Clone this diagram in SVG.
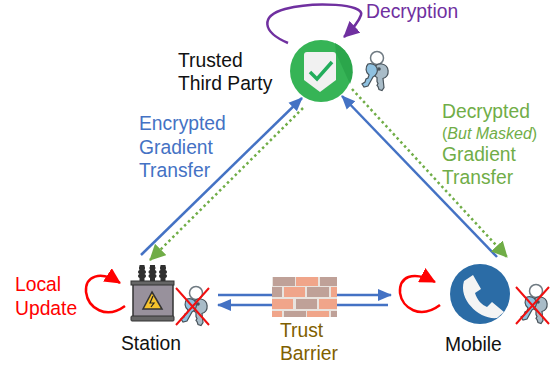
<svg xmlns="http://www.w3.org/2000/svg" width="557" height="365" viewBox="0 0 557 365">
<style>
text{font-family:"Liberation Sans",Arial,sans-serif;font-size:19.3px}
.b{fill:#4472c4}.g{fill:#70ad47}.k{fill:#111}.r{fill:#f00}
.bl{stroke:#4472c4;stroke-width:2.5;fill:none}
.gl{stroke:#70ad47;stroke-width:2.5;fill:none;stroke-dasharray:2.5 3}
.x{stroke:#f01010;stroke-width:2;fill:none}
.rl{stroke:#f00;stroke-width:2.5;fill:none}
.ins{fill:#2f2f2f}
</style>
<defs>
<marker id="ab" markerUnits="userSpaceOnUse" markerWidth="15" markerHeight="14" refX="13" refY="7" orient="auto"><path d="M0 1L14 7L0 13Z" fill="#4472c4"/></marker>
<marker id="ag" markerUnits="userSpaceOnUse" markerWidth="17" markerHeight="16" refX="15" refY="8" orient="auto"><path d="M0 0L16 8L0 16Z" fill="#70ad47"/></marker>
<marker id="ar" markerUnits="userSpaceOnUse" markerWidth="17" markerHeight="16" refX="15" refY="8" orient="auto"><path d="M0 0L16 8L0 16Z" fill="#f00"/></marker>
<marker id="ap" markerUnits="userSpaceOnUse" markerWidth="17" markerHeight="16" refX="15" refY="8" orient="auto"><path d="M0 0L16 8L0 16Z" fill="#7030a0"/></marker>
<g id="key">
<circle cx="15" cy="6" r="6.5" fill="none" stroke="#6f7a82" stroke-width="1.5"/>
<path d="M11 19a7.5 7.5 0 0 1 9-7a7.5 7.5 0 0 1 1 14.500l1 9l-2 3l-3-1l-1-3l-1-1l1-2l-1-2v-4a7.500 7.500 0 0 1-4-6.500Z" fill="#a9bcc8" stroke="#47525a" stroke-width="1.2"/>
<path d="M6 12a7.500 7.500 0 0 1 9 4a7.500 7.500 0 0 1-4 9l-5 9l-4 1l-2-3l3-2l1-3l2-1l1-3a7.500 7.500 0 0 1-1-11Z" fill="#8fc1e0" stroke="#47525a" stroke-width="1.200"/>
<circle cx="17" cy="17" r="1.800" fill="#47525a"/>
</g>
<g id="ins3"><ellipse cx="0" cy="3" rx="3" ry="2.200"/><ellipse cx="0" cy="7" rx="4" ry="2.200"/><ellipse cx="0" cy="11" rx="4" ry="2.200"/><rect x="-2.500" y="0" width="5" height="16"/></g>
</defs>
<g id="connectors">
<path class="bl" d="M141 255L302 98" marker-end="url(#ab)"/>
<path class="gl" d="M303 108L150 260" marker-end="url(#ag)"/>
<path class="bl" d="M497 257L342 96" marker-end="url(#ab)"/>
<path class="gl" d="M352 89L507 257" marker-end="url(#ag)"/>
<path class="bl" d="M218 295H391" marker-end="url(#ab)"/>
<path class="bl" d="M388 305H218" marker-end="url(#ab)"/>
<path d="M288 43C262 32 260 16 285 9C315 1 365 4 361 15Q358 24 344 37" fill="none" stroke="#7030a0" stroke-width="2.500" marker-end="url(#ap)"/>
<path class="rl" d="M125 306C106 320 88 308 86 292C85 276 100 270 120 283" marker-end="url(#ar)"/>
<path class="rl" d="M440 305C420 320 402 308 400 293C399 277 412 270 435 282" marker-end="url(#ar)"/>
</g>
<g id="third-party">
<circle cx="321" cy="71" r="31" fill="#36b456"/>
<path d="M336 53L350 84A31 31 0 0 0 335 43Z" fill="#2ba64b"/>
<path d="M304 55Q304 52 307 52H333Q336 52 336 55V80L320 92L304 80Z" fill="#f1f1f1"/>
<path d="M310 72L317 79L332 62" fill="none" stroke="#23ad5c" stroke-width="3.500"/>
<use href="#key" x="362" y="52"/>
<text class="k" x="178" y="67">Trusted</text>
<text class="k" x="178" y="90">Third Party</text>
</g>
<g id="station">
<g class="ins"><use href="#ins3" x="142" y="265"/><use href="#ins3" x="152.500" y="265"/><use href="#ins3" x="163" y="265"/></g>
<rect x="133" y="283" width="40" height="36" fill="#98919c" stroke="#333" stroke-width="1.500"/>
<rect x="131" y="281" width="43" height="4" fill="#666" stroke="#333"/>
<rect x="131" y="316" width="43" height="5" rx="1" fill="#666" stroke="#333"/>
<path d="M152 292L162 309H143Z" fill="#f6c22c" stroke="#333" stroke-width="1.500"/>
<path d="M153 296L150 303H154L151 307" fill="none" stroke="#222" stroke-width="1.200"/>
<use href="#key" x="181" y="287"/>
<path class="x" d="M176 288L209 325M209 288L176 325"/>
<text class="k" x="121" y="350">Station</text>
<text class="r" x="15" y="291">Local</text>
<text class="r" x="15" y="315">Update</text>
</g>
<g id="barrier">
<rect x="272" y="277" width="65" height="40" fill="#e9e4df"/>
<g fill="#f0a58a"><rect x="296" y="277" width="22" height="9"/><rect x="284" y="287" width="21" height="10"/><rect x="272" y="299" width="21" height="10"/><rect x="319" y="299" width="18" height="10"/><rect x="331" y="287" width="6" height="10"/><rect x="307" y="311" width="22" height="6"/><rect x="272" y="311" width="10" height="6"/></g>
<g fill="#bfa198"><rect x="273" y="277" width="22" height="9"/><rect x="320" y="277" width="17" height="9"/><rect x="272" y="287" width="10" height="10"/><rect x="307" y="287" width="22" height="10"/><rect x="296" y="299" width="21" height="10"/><rect x="284" y="311" width="22" height="6"/><rect x="331" y="311" width="6" height="6"/></g>
<text x="280" y="337" fill="#7f6000">Trust</text>
<text x="280" y="360" fill="#7f6000">Barrier</text>
</g>
<g id="mobile">
<circle cx="480" cy="294" r="30" fill="#2b6ca6"/>
<path d="M464 281L473 275L481 289L475 293C477 300 482 305 487 307L492 302L504 312L497 318C480 320 458 300 464 281Z" fill="#f4f4f4"/>
<use href="#key" x="521" y="285"/>
<path class="x" d="M516 287L549 324M549 287L516 324"/>
<text class="k" x="445" y="351">Mobile</text>
</g>
<g id="labels">
<text x="366" y="18" fill="#7030a0">Decryption</text>
<text class="b" x="139" y="130">Encrypted</text>
<text class="b" x="139" y="154">Gradient</text>
<text class="b" x="139" y="177">Transfer</text>
<text class="g" x="442" y="118">Decrypted</text>
<text class="g" x="442" y="139" style="font-size:16px">(<tspan font-style="italic">But Masked</tspan>)</text>
<text class="g" x="442" y="161">Gradient</text>
<text class="g" x="442" y="184">Transfer</text>
</g>
</svg>
